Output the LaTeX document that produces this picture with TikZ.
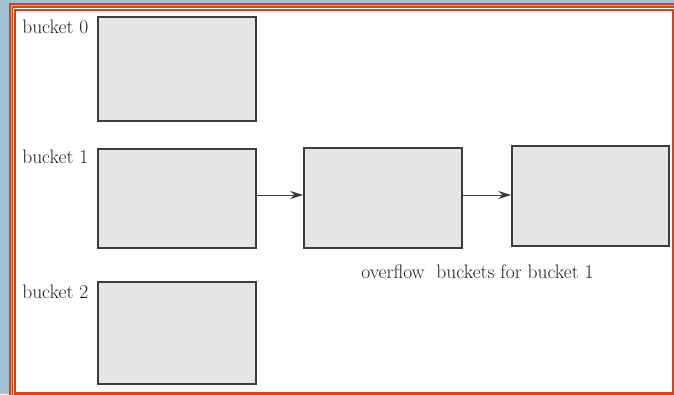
\documentclass[tikz,border=0pt]{standalone}
\usetikzlibrary{arrows.meta}
\definecolor{bgblue}{HTML}{A6C2D6}
\definecolor{frameorange}{HTML}{D6441A}
\definecolor{framelight}{HTML}{F2A88A}
\definecolor{boxgray}{HTML}{E6E6E6}
\definecolor{boxline}{HTML}{3C3C3C}
\definecolor{textgray}{HTML}{1E1E1E}

\begin{document}
\begin{tikzpicture}[x=1pt,y=-1pt,>={Stealth[length=13pt,width=8pt]},semithick,
    bucketbox/.style={shape=rectangle,draw=boxline,fill=boxgray,line width=1.6pt,inner sep=0pt},
    bucketlabel/.style={anchor=base west,inner sep=0pt,text=textgray,font=\fontsize{19.5}{23}\selectfont}]
                \useasboundingbox (0,0) rectangle (674,394);
                % slide frame
                \fill[bgblue] (0,0) rectangle (674,394);
                \fill[frameorange] (9,3) rectangle (690,410);
                \draw[framelight,line width=0.8pt] (11.6,5.6) rectangle (690,410);
                \draw[white,line width=0.8pt] (13.6,8.4) rectangle (690,410);
                \draw[frameorange,line width=1.5pt,fill=white] (15.2,10.6) rectangle (672.8,392.6);
                % buckets
                \node[bucketbox,minimum width=158pt,minimum height=104pt](b0)at(177, 69){};
                \node[bucketbox,minimum width=158pt,minimum height=99pt](b1)at(177, 198.5){};
                \node[bucketbox,minimum width=158pt,minimum height=102pt](b2)at(177, 333){};
                \node[bucketbox,minimum width=158pt,minimum height=100pt](o1)at(383, 198){};
                \node[bucketbox,minimum width=157pt,minimum height=100pt](o2)at(590.5, 196){};
                \node[bucketlabel](l0)at(22, 33){bucket 0};
                \node[bucketlabel](l1)at(22, 163){bucket 1};
                \node[bucketlabel](l2)at(22, 298){bucket 2};
                \node[bucketlabel](lo)at(361, 278){overflow\ \ buckets for bucket 1};
                \draw[->,boxline,line width=1pt] ([yshift=3.5pt]b1.east) -- ([yshift=3.5pt]b1.east -| o1.west);
                \draw[->,boxline,line width=1pt] ([yshift=3pt]o1.east) -- ([yshift=3pt]o1.east -| o2.west);
            \end{tikzpicture}
\end{document}
